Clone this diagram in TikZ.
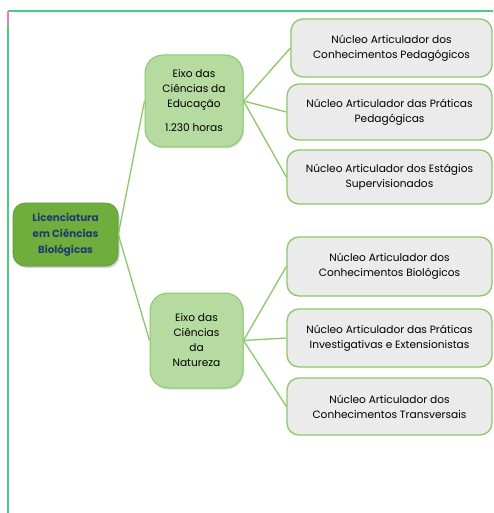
\documentclass[tikz,border=0pt]{standalone}
\usepackage{fontspec}
\setmainfont{Poppins}
\usetikzlibrary{shadows}
\definecolor{rootfill}{HTML}{6FAE3C}
\definecolor{roottext}{HTML}{1F3B6E}
\definecolor{axisfill}{HTML}{B5DBA0}
\definecolor{boxfill}{HTML}{EBEBEB}
\definecolor{edge}{HTML}{8CC86A}
\definecolor{framegreen}{HTML}{4CCB7E}
\definecolor{framepink}{HTML}{F07CC0}
\tikzset{
  rootbox/.style={draw=rootfill!85!black, line width=0.6pt, fill=rootfill, rounded corners=12pt,
    text=roottext, align=center, font=\fontsize{10.3}{15.8}\selectfont\bfseries,
    inner sep=0pt, drop shadow={shadow xshift=1.5pt, shadow yshift=-2pt, opacity=0.35}},
  axisbox/.style={draw=edge, line width=1pt, fill=axisfill, rounded corners=18pt,
    align=center, font=\fontsize{10.6}{15}\selectfont, inner sep=0pt,
    drop shadow={shadow xshift=1.2pt, shadow yshift=-1.5pt, opacity=0.25}},
  leafbox/.style={draw=edge, line width=1.3pt, fill=boxfill, rounded corners=12pt,
    align=center, font=\fontsize{10.6}{15}\selectfont, inner sep=0pt,
    minimum width=205pt},
  link/.style={draw=edge, line width=1.3pt}
}
\begin{document}
\begin{tikzpicture}[x=1pt,y=-1pt]
\useasboundingbox (0,0) rectangle (493,513);
\fill[white] (0,0) rectangle (493,513);
% page frame
\draw[framegreen, line width=1.6pt] (7.5,11) -- (493,11);
\draw[framegreen, line width=1.6pt] (8,25) -- (8,513);
\draw[framepink, line width=1.6pt] (8,11) -- (8,25);

% central node
\node[rootbox, minimum width=105pt, minimum height=63pt] (root) at (65.5,234.5)
  {Licenciatura\\em Ciências\\Biológicas};

% axes
\node[axisbox, minimum width=98pt, minimum height=92pt] (edu) at (194,101)
  {Eixo das\\Ciências da\\Educação\\[9pt]1.230 horas};
\node[axisbox, minimum width=93pt, minimum height=95pt] (nat) at (196.5,340.5)
  {Eixo das\\Ciências\\da\\Natureza};

% leaves
\node[leafbox, minimum width=201pt, minimum height=58pt] (p1) at (391.5,48)
  {Núcleo Articulador dos\\Conhecimentos Pedagógicos};
\node[leafbox, minimum height=56pt] (p2) at (389.5,112)
  {Núcleo Articulador das Práticas\\Pedagógicas};
\node[leafbox, minimum height=54pt] (p3) at (389.5,177)
  {Núcleo Articulador dos Estágios\\Supervisionados};
\node[leafbox, minimum height=59pt] (n1) at (389.5,266.5)
  {Núcleo Articulador dos\\Conhecimentos Biológicos};
\node[leafbox, minimum height=58pt] (n2) at (389.5,338)
  {Núcleo Articulador das Práticas\\Investigativas e Extensionistas};
\node[leafbox, minimum height=57pt] (n3) at (389.5,406.5)
  {Núcleo Articulador dos\\Conhecimentos Transversais};

% connectors
\draw[link] (root.east) -- (edu.west);
\draw[link] (root.east) -- (nat.west);
\draw[link] (edu.east) -- (p1.west);
\draw[link] (edu.east) -- (p2.west);
\draw[link] (edu.east) -- (p3.west);
\draw[link] (nat.east) -- (n1.west);
\draw[link] (nat.east) -- (n2.west);
\draw[link] (nat.east) -- (n3.west);
\end{tikzpicture}
\end{document}
